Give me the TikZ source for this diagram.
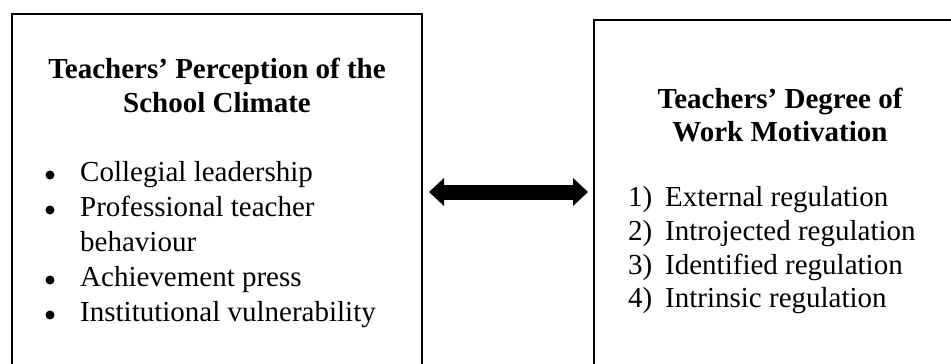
\documentclass[tikz,border=0pt]{standalone}
\usepackage{fontspec}
\setmainfont{Liberation Serif}
\usetikzlibrary{arrows.meta}
\begin{document}
\begin{tikzpicture}[x=1pt,y=-1pt,
  box/.style={draw, line width=2pt, inner sep=0pt, rectangle},
  ttl/.style={inner sep=0pt, anchor=base, font=\fontsize{29}{34.5}\selectfont\bfseries},
  item/.style={inner sep=0pt, anchor=base west, font=\fontsize{29}{34.5}\selectfont},
  dot/.style={circle, fill, inner sep=0pt, minimum size=9pt},
  bigarrow/.style={line width=15pt,
    {Triangle[length=15pt,width=28pt,line width=0pt]}-{Triangle[length=15pt,width=28pt,line width=0pt]}}]
\useasboundingbox (0,0) rectangle (951,364);
\clip (0,0) rectangle (951,364);
% boxes (cut off by the picture edges as in the reference)
\node[box, minimum width=410pt, minimum height=366pt] (lbox) at (217,197) {};
\node[box, minimum width=386pt, minimum height=360pt] (rbox) at (787,200) {};
% left box text
\node[ttl] (lt1) at (217,78) {Teachers’ Perception of the};
\node[ttl] (lt2) at (217,112) {School Climate};
\node[dot] (lb1) at (50,175) {};
\node[item] (li1) at (80,181) {Collegial leadership};
\node[dot] (lb2) at (50,210) {};
\node[item] (li2) at (80,216) {Professional teacher};
\node[item] (li2b) at (80,251) {behaviour};
\node[dot] (lb3) at (50,280) {};
\node[item] (li3) at (80,286) {Achievement press};
\node[dot] (lb4) at (50,315) {};
\node[item] (li4) at (80,321) {Institutional vulnerability};
% right box text
\node[ttl] (rt1) at (780,108.5) {Teachers’ Degree of};
\node[ttl] (rt2) at (780,141) {Work Motivation};
\node[item] (rn1) at (628,206) {1)};
\node[item] (ri1) at (665,206) {External regulation};
\node[item] (rn2) at (628,240) {2)};
\node[item] (ri2) at (665,240) {Introjected regulation};
\node[item] (rn3) at (628,274) {3)};
\node[item] (ri3) at (665,274) {Identified regulation};
\node[item] (rn4) at (628,307) {4)};
\node[item] (ri4) at (665,307) {Intrinsic regulation};
% double arrow
\coordinate (ay) at (0,192);
\draw[bigarrow, shorten <=6pt, shorten >=5pt] (lbox.east |- ay) -- (rbox.west |- ay);
\end{tikzpicture}
\end{document}
